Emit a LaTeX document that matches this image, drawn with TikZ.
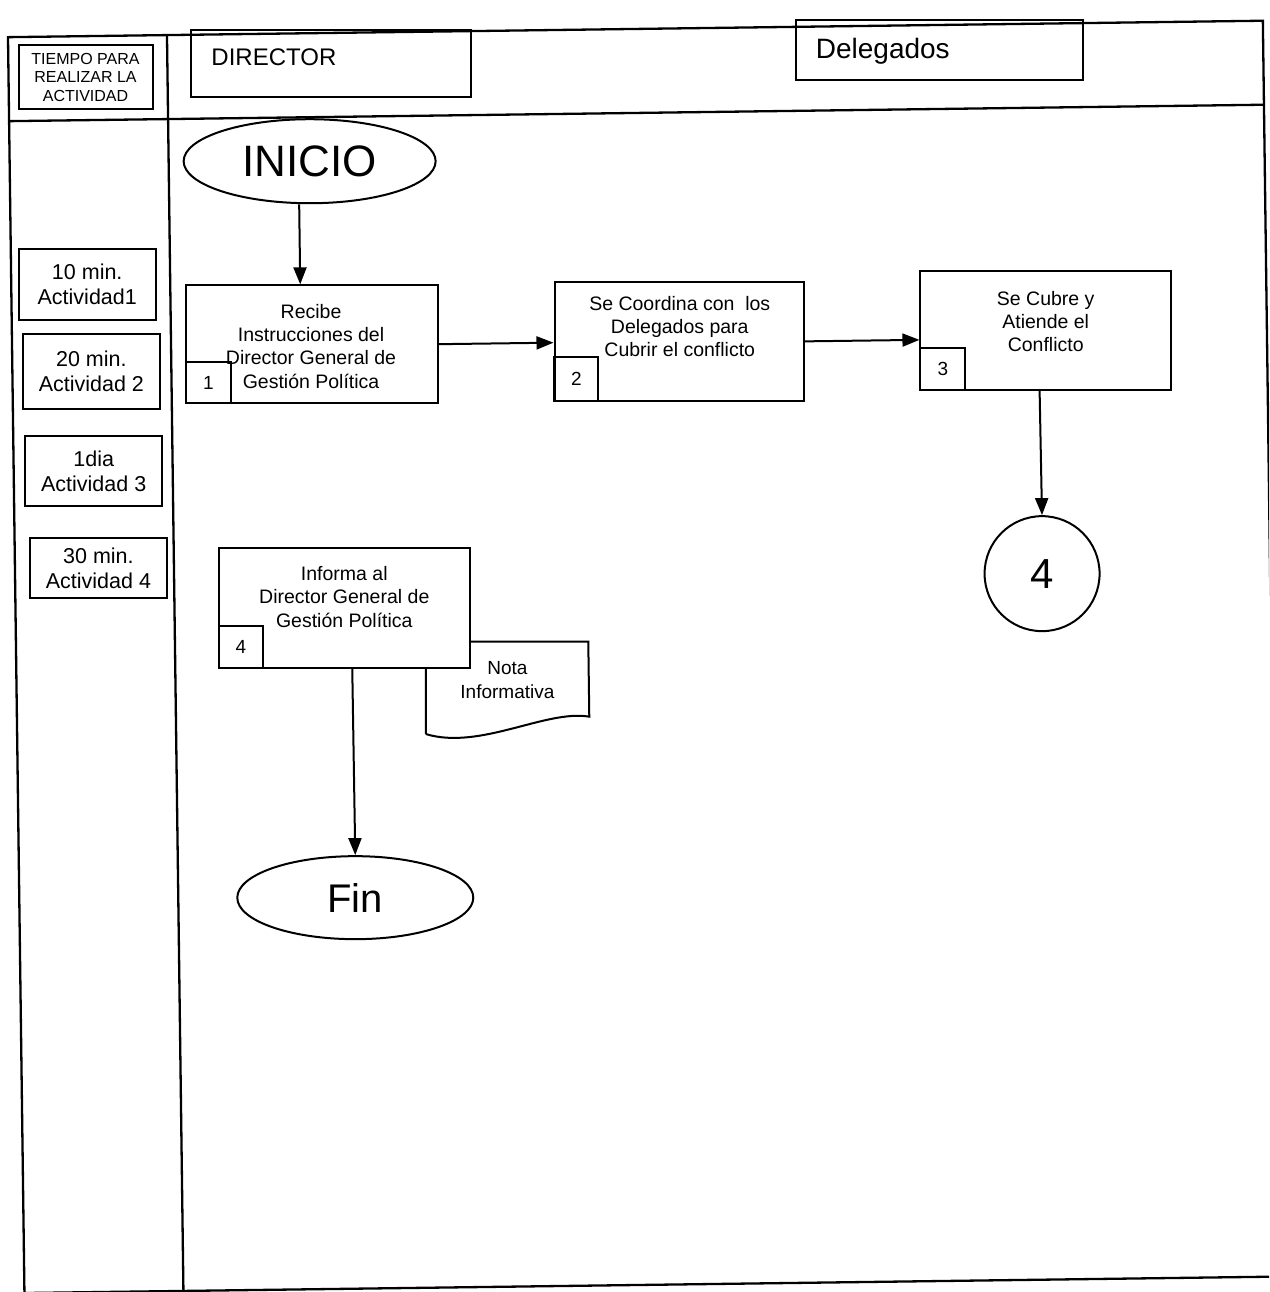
\documentclass[tikz,border=0pt]{standalone}
\usepackage{fontspec}
\setmainfont{Liberation Sans}
\usetikzlibrary{arrows.meta,shapes.geometric,calc}
\begin{document}
\begin{tikzpicture}[x=1pt,y=-1pt,
  frame/.style={line width=2.3pt},
  hdrbox/.style={draw,line width=2pt,inner sep=0pt},
  procbox/.style={draw,line width=2pt,fill=white,minimum width=251pt,minimum height=119pt,inner sep=0pt},
  numbox/.style={draw,line width=2pt,minimum width=45pt,minimum height=42pt,inner sep=0pt,font=\fontsize{19}{22}\selectfont},
  proctext/.style={align=center,font=\fontsize{19.5}{23.3}\selectfont,inner sep=0pt},
  timebox/.style={draw,line width=2pt,minimum width=137pt,align=center,inner sep=0pt,font=\fontsize{21.5}{25}\selectfont},
  terminal/.style={draw,ellipse,line width=2pt,inner sep=0pt},
  flow/.style={line width=2pt,-{Triangle[length=17pt,width=13pt]}},
]
\useasboundingbox (0,0) rectangle (1269,1292);
\clip (0,0) rectangle (1269,1292);
\begin{scope}[rotate around={0.75:(634,646)}]
  % page frame, header row and time column
  \draw[frame] (16,29) rectangle (1271,1285);
  \draw[frame] (16,113) -- (1271,113);
  \draw[frame] (175,29) -- (175,1285);

  % header cells
  \node[hdrbox,minimum width=134pt,minimum height=64pt,align=center,
        font=\fontsize{16}{18.5}\selectfont] (tiempo) at (93,70)
        {TIEMPO PARA\\REALIZAR LA\\ACTIVIDAD};
  \node[hdrbox,minimum width=280pt,minimum height=67pt] (dirbox) at (339,60) {};
  \node[anchor=west,inner sep=0pt,font=\fontsize{24}{28}\selectfont] (dirtext)
        at ($(dirbox.west)+(21,-6)$) {DIRECTOR};
  \node[hdrbox,minimum width=287pt,minimum height=60pt] (delbox) at (947,54) {};
  \node[anchor=west,inner sep=0pt,font=\fontsize{28}{32}\selectfont] (deltext)
        at ($(delbox.west)+(21,2)$) {Delegados};

  % time per activity
  \node[timebox,minimum height=71pt] (tm1) at (92,277) {10 min.\\Actividad1};
  \node[timebox,minimum height=75pt] (tm2) at (95,364) {20 min.\\Actividad 2};
  \node[timebox,minimum height=70pt] (tm3) at (96,464) {1dia\\Actividad 3};
  \node[timebox,minimum height=60pt] (tm4) at (99.5,561) {30 min.\\Actividad 4};

  % start
  \node[terminal,minimum width=252pt,minimum height=84pt,
        font=\fontsize{44}{50}\selectfont] (inicio) at (316,157) {INICIO};

  % activity 1
  \node[procbox,minimum width=252pt,minimum height=118pt] (b1) at (316,340) {};
  \node[proctext] (b1t) at ($(b1)+(-1,2)$)
        {Recibe\\Instrucciones del\\Director General de\\Gestión Política};
  \node[numbox,anchor=south west,minimum height=41pt] (n1) at (b1.south west) {1};

  % activity 2
  \node[procbox,minimum width=249pt] (b2) at (683,342) {};
  \node[proctext] (b2t) at ($(b2)+(1,-15)$)
        {Se Coordina con\ \ los\\Delegados para\\Cubrir el conflicto};
  \node[numbox,anchor=south west,minimum width=44pt,minimum height=44pt] (n2) at (b2.south west) {2};

  % activity 3
  \node[procbox] (b3) at (1050,336) {};
  \node[proctext] (b3t) at ($(b3)+(0,-9)$) {Se Cubre y\\Atiende el\\Conflicto};
  \node[numbox,anchor=south west] (n3) at (b3.south west) {3};

  % off-page connector
  \node[draw,circle,line width=2pt,minimum size=115pt,inner sep=0pt,
        font=\fontsize{42}{48}\selectfont] (c4) at (1043,579) {4};

  % document produced by activity 4
  \node[minimum width=162pt,minimum height=92pt,inner sep=0pt,anchor=north west] (nota) at (426,639) {};
  \draw[line width=2pt] (nota.south west) -- (nota.north west) -- (nota.north east)
        -- ($(nota.north east)+(0,75)$)
        .. controls ($(nota.north east)+(-43,67)$) and ($(nota.south west)+(54,17)$) .. (nota.south west);
  \node[align=center,inner sep=0pt,font=\fontsize{19}{24}\selectfont] (notat)
        at (507,678) {Nota\\Informativa};

  % activity 4
  \node[procbox,minimum height=120pt] (b4) at (345,604) {};
  \node[proctext] (b4t) at ($(b4)+(0,-11)$) {Informa al\\Director General de\\Gestión Política};
  \node[numbox,anchor=south west,minimum width=44pt] (n4) at (b4.south west) {4};

  % end
  \node[terminal,minimum width=236pt,minimum height=83pt,
        font=\fontsize{40}{46}\selectfont] (fin) at (352,894) {Fin};

  % flow
  \coordinate (drop1) at (305,0);
  \draw[flow] (inicio.south -| drop1) -- (b1.north -| drop1);
  \draw[flow] (b1.east) -- (b2.west |- b1.east);
  \draw[flow] (b2.east) -- (b3.west |- b2.east);
  \draw[flow] (b3.south -| c4) -- (c4.north);
  \draw[flow] (b4.south -| fin) -- (fin.north);
\end{scope}
\end{tikzpicture}
\end{document}
